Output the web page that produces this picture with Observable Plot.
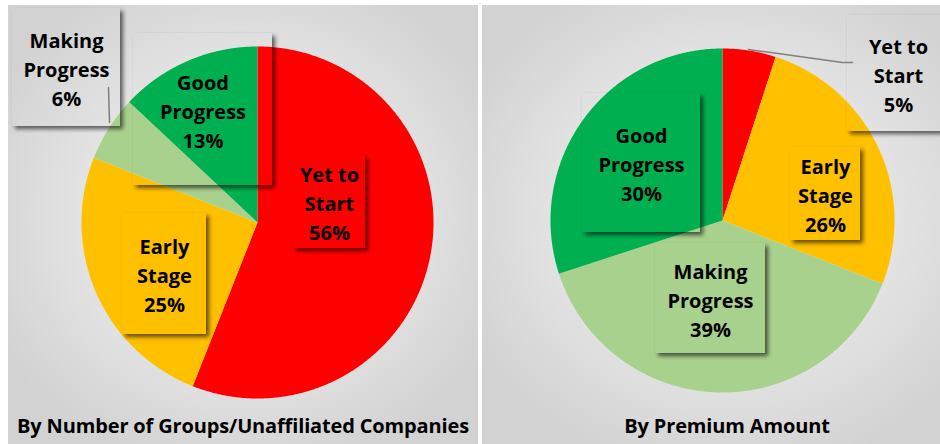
<!DOCTYPE html>
<html>
<head>
<meta charset="utf-8">
<script src="https://cdn.jsdelivr.net/npm/d3@7"></script>
<script src="https://cdn.jsdelivr.net/npm/@observablehq/plot@0.6"></script>
<style>
  html, body { margin: 0; padding: 0; }
  body { width: 940px; height: 444px; overflow: hidden; background: #ffffff; position: relative; font-family: "Open Sans", Lato, sans-serif; }
  .panel { position: absolute; top: 5px; height: 439px; overflow: hidden;
    background: radial-gradient(ellipse 60% 60% at 50% 48%, #ececec 0%, #e4e4e4 55%, #d2d2d2 100%); }
  .panel svg { position: absolute; left: 0; top: 0; background: transparent; overflow: visible; }
  .title { position: absolute; left: 0; right: 0; top: 406px; height: 30px; line-height: 30px;
    text-align: center; font-weight: 700; font-size: 20px; color: #000; white-space: nowrap; letter-spacing: -0.15px; }
</style>
</head>
<body>
<div id="p1" class="panel" style="left:8px;width:470px;"></div>
<div id="p2" class="panel" style="left:482px;width:490px;"></div>
<script>
// ---- data ----
const categories = ["Yet to Start", "Early Stage", "Making Progress", "Good Progress"];
const labelLines = ["Yet to\nStart", "Early\nStage", "Making\nProgress", "Good\nProgress"];
const groupsShare = [56, 25, 6, 13];
const premiumShare = [5, 26, 39, 30];
const sliceColors = ["#FF0000", "#FFC000", "#A9D18E", "#00B050"];
const chartTitles = ["By Number of Groups/Unaffiliated Companies", "By Premium Amount"];

// ---- layout (pixel offsets from pie centre, screen y down) ----
const layoutGroups = {
  width: 470, height: 405, cx: 249, cy: 217, r: 176,
  boxes: [[36, 108, -67, 26], [-135, -51, -9, 112], [-245, -137, -214, -96], [-124, 15, -189, -37]],
  leaders: [[[-149, -135], [-148, -100]]]
};
const layoutPremium = {
  width: 490, height: 405, cx: 240, cy: 215, r: 172,
  boxes: [[125, 227, -205, -89], [68, 138, -73, 20], [-67, 43, 23, 133], [-140, -22, -127, 12]],
  leaders: [[[26, -171], [120, -158], [130, -158]]]
};

function drawPie(shares, layout, id) {
  const {width, height, cx, cy, r} = layout;
  const arcs = d3.pie().sort(null).value(d => d)(shares);
  const slices = arcs.map((a, i) => {
    const pts = [{x: 0, y: 0}];
    const n = Math.max(2, Math.ceil((a.endAngle - a.startAngle) / 0.005));
    for (let k = 0; k <= n; k++) {
      const t = a.startAngle + (a.endAngle - a.startAngle) * k / n;
      pts.push({x: Math.sin(t), y: Math.cos(t)});
    }
    pts.push({x: 0, y: 0});
    return pts;
  });
  const boxes = layout.boxes.map((b, i) => ({
    x1: b[0] / r, x2: b[1] / r, y1: -b[2] / r, y2: -b[3] / r,
    cx: (b[0] + b[1]) / 2 / r, cy: -(b[2] + b[3]) / 2 / r,
    text: `${labelLines[i]}\n${shares[i]}%`, cat: categories[i]
  }));
  const leaders = layout.leaders.flatMap((L, j) => L.map(p => ({x: p[0] / r, y: -p[1] / r, g: j})));

  const plot = Plot.plot({
    width, height,
    margin: 0,
    style: {background: "transparent", overflow: "visible"},
    x: {domain: [-cx / r, (width - cx) / r], range: [0, width], axis: null},
    y: {domain: [-(height - cy) / r, cy / r], range: [height, 0], axis: null},
    marks: [
      ...slices.map((pts, i) => Plot.line(pts, {x: "x", y: "y", fill: sliceColors[i], stroke: "none", curve: "linear"})),
      Plot.rect(boxes, {x1: "x1", x2: "x2", y1: "y1", y2: "y2", fill: "black"}),
      Plot.line(leaders, {x: "x", y: "y", z: "g", stroke: "#7f7f7f", strokeWidth: 1.5}),
      Plot.text(boxes, {x: "cx", y: "cy", text: "text", fontSize: 20, fontWeight: "bold",
        fontFamily: "'Open Sans', Lato, sans-serif", lineHeight: 1.45, fill: "#000", textAnchor: "middle",
        letterSpacing: -0.3})
    ]
  });

  // outer-only drop shadow for label boxes (transparent box with shadow)
  const svg = d3.select(plot);
  const defs = svg.insert("defs", ":first-child");
  const f = defs.append("filter").attr("id", id).attr("x", "-30%").attr("y", "-30%").attr("width", "160%").attr("height", "160%");
  f.append("feGaussianBlur").attr("in", "SourceAlpha").attr("stdDeviation", 2.2).attr("result", "blur");
  f.append("feOffset").attr("in", "blur").attr("dx", 3).attr("dy", 3).attr("result", "off");
  f.append("feFlood").attr("flood-color", "#000").attr("flood-opacity", 0.6).attr("result", "flood");
  f.append("feComposite").attr("in", "flood").attr("in2", "off").attr("operator", "in").attr("result", "shadow");
  f.append("feComposite").attr("in", "shadow").attr("in2", "SourceAlpha").attr("operator", "out");
  svg.selectAll('g[aria-label="rect"] rect').attr("filter", `url(#${id})`);
  return plot;
}

const p1 = document.getElementById("p1");
const p2 = document.getElementById("p2");
p1.appendChild(drawPie(groupsShare, layoutGroups, "shadow1"));
p2.appendChild(drawPie(premiumShare, layoutPremium, "shadow2"));

function addTitle(panel, text, width) {
  const t = document.createElement("div");
  t.className = "title";
  t.style.width = width + "px";
  t.textContent = text;
  panel.appendChild(t);
}
addTitle(p1, chartTitles[0], 470);
addTitle(p2, chartTitles[1], 490);
</script>
</body>
</html>
